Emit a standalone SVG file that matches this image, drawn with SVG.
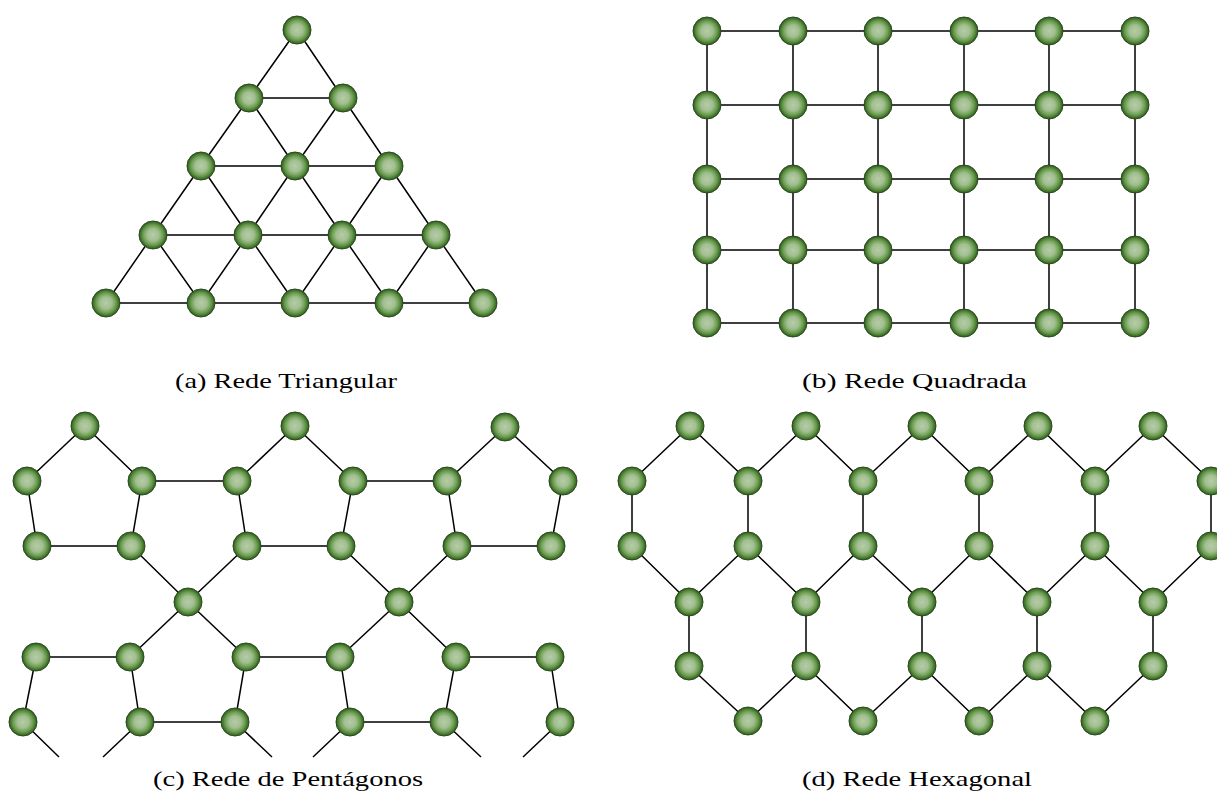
<svg xmlns="http://www.w3.org/2000/svg" width="1217" height="795" viewBox="0 0 1217 795">
<defs>
<radialGradient id="ball" cx="50%" cy="50%" r="50%">
<stop offset="0%" stop-color="#b6cca8"/>
<stop offset="42%" stop-color="#a2bf90"/>
<stop offset="72%" stop-color="#699c4e"/>
<stop offset="90%" stop-color="#41732d"/>
<stop offset="100%" stop-color="#30571f"/>
</radialGradient>
</defs>
<style>
.e{stroke:#000;stroke-width:1.5;fill:none}
.n circle{fill:url(#ball);stroke:#2c4a20;stroke-width:1}
.cap{font-family:"Liberation Serif","Times New Roman",serif;font-size:22px;fill:#000}
</style>
<rect width="1217" height="795" fill="#fff"/>
<g id="connectors" class="e">
<path d="M297,30L249,98M297,30L343,98M249,98L343,98M249,98L201,166M249,98L295,166M343,98L295,166M343,98L389,166M201,166L295,166M295,166L389,166M201,166L153,235M201,166L248,235M295,166L248,235M295,166L342,235M389,166L342,235M389,166L436,235M153,235L436,235M153,235L106,303M153,235L201,303M248,235L201,303M248,235L295,303M342,235L295,303M342,235L389,303M436,235L389,303M436,235L483,303M106,303L483,303"/>
<path d="M707,31H1135M707,105H1135M707,179H1135M707,250H1135M707,323H1135M707,31V323M793,31V323M878,31V323M964,31V323M1049,31V323M1135,31V323"/>
<path d="M85,426L27,481L37,546L131,546L142,481Z M295,426L237,481L247,546L341,546L353,481Z M505,427L447,481L457,546L551,546L563,481Z M142,481L237,481M353,481L447,481M131,546L188,602L247,546M130,657L188,602L246,657M341,546L399,602L457,546M340,657L399,602L456,657M36,657L130,657M36,657L23,722M130,657L140,722L235,722L246,657L340,657L350,722L444,722L456,657L550,657L560,722M23,722L59,757M140,722L103,757M235,722L272,757M350,722L313,757M444,722L481,757M560,722L523,757"/>
<path d="M632,481L690,426L748,481L806,426L863,481L922,426L979,481L1038,426L1095,481L1153,426L1211,481M632,481V546M748,481V546M863,481V546M979,481V546M1095,481V546M1211,481V546M632,546L689,602L748,546L806,602L863,546L922,602L979,546L1037,602L1095,546L1153,602L1211,546M689,602V666M806,602V666M922,602V666M1037,602V666M1153,602V666M689,666L748,721L806,666L863,721L922,666L979,721L1037,666L1095,721L1153,666"/>
</g>
<g class="n">
<g id="t1"><circle cx="297" cy="30" r="14"/></g>
<g id="t2"><circle cx="249" cy="98" r="14"/></g>
<g id="t3"><circle cx="343" cy="98" r="14"/></g>
<g id="t4"><circle cx="201" cy="166" r="14"/></g>
<g id="t5"><circle cx="295" cy="166" r="14"/></g>
<g id="t6"><circle cx="389" cy="166" r="14"/></g>
<g id="t7"><circle cx="153" cy="235" r="14"/></g>
<g id="t8"><circle cx="248" cy="235" r="14"/></g>
<g id="t9"><circle cx="342" cy="235" r="14"/></g>
<g id="t10"><circle cx="436" cy="235" r="14"/></g>
<g id="t11"><circle cx="106" cy="303" r="14"/></g>
<g id="t12"><circle cx="201" cy="303" r="14"/></g>
<g id="t13"><circle cx="295" cy="303" r="14"/></g>
<g id="t14"><circle cx="389" cy="303" r="14"/></g>
<g id="t15"><circle cx="483" cy="303" r="14"/></g>

<g id="s1"><circle cx="707" cy="31" r="14"/></g>
<g id="s2"><circle cx="793" cy="31" r="14"/></g>
<g id="s3"><circle cx="878" cy="31" r="14"/></g>
<g id="s4"><circle cx="964" cy="31" r="14"/></g>
<g id="s5"><circle cx="1049" cy="31" r="14"/></g>
<g id="s6"><circle cx="1135" cy="31" r="14"/></g>
<g id="s7"><circle cx="707" cy="105" r="14"/></g>
<g id="s8"><circle cx="793" cy="105" r="14"/></g>
<g id="s9"><circle cx="878" cy="105" r="14"/></g>
<g id="s10"><circle cx="964" cy="105" r="14"/></g>
<g id="s11"><circle cx="1049" cy="105" r="14"/></g>
<g id="s12"><circle cx="1135" cy="105" r="14"/></g>
<g id="s13"><circle cx="707" cy="179" r="14"/></g>
<g id="s14"><circle cx="793" cy="179" r="14"/></g>
<g id="s15"><circle cx="878" cy="179" r="14"/></g>
<g id="s16"><circle cx="964" cy="179" r="14"/></g>
<g id="s17"><circle cx="1049" cy="179" r="14"/></g>
<g id="s18"><circle cx="1135" cy="179" r="14"/></g>
<g id="s19"><circle cx="707" cy="250" r="14"/></g>
<g id="s20"><circle cx="793" cy="250" r="14"/></g>
<g id="s21"><circle cx="878" cy="250" r="14"/></g>
<g id="s22"><circle cx="964" cy="250" r="14"/></g>
<g id="s23"><circle cx="1049" cy="250" r="14"/></g>
<g id="s24"><circle cx="1135" cy="250" r="14"/></g>
<g id="s25"><circle cx="707" cy="323" r="14"/></g>
<g id="s26"><circle cx="793" cy="323" r="14"/></g>
<g id="s27"><circle cx="878" cy="323" r="14"/></g>
<g id="s28"><circle cx="964" cy="323" r="14"/></g>
<g id="s29"><circle cx="1049" cy="323" r="14"/></g>
<g id="s30"><circle cx="1135" cy="323" r="14"/></g>

<g id="p1"><circle cx="85" cy="426" r="14"/></g>
<g id="p2"><circle cx="27" cy="481" r="14"/></g>
<g id="p3"><circle cx="142" cy="481" r="14"/></g>
<g id="p4"><circle cx="37" cy="546" r="14"/></g>
<g id="p5"><circle cx="131" cy="546" r="14"/></g>
<g id="p6"><circle cx="295" cy="426" r="14"/></g>
<g id="p7"><circle cx="237" cy="481" r="14"/></g>
<g id="p8"><circle cx="353" cy="481" r="14"/></g>
<g id="p9"><circle cx="247" cy="546" r="14"/></g>
<g id="p10"><circle cx="341" cy="546" r="14"/></g>
<g id="p11"><circle cx="505" cy="427" r="14"/></g>
<g id="p12"><circle cx="447" cy="481" r="14"/></g>
<g id="p13"><circle cx="563" cy="481" r="14"/></g>
<g id="p14"><circle cx="457" cy="546" r="14"/></g>
<g id="p15"><circle cx="551" cy="546" r="14"/></g>
<g id="p16"><circle cx="188" cy="602" r="14"/></g>
<g id="p17"><circle cx="399" cy="602" r="14"/></g>
<g id="p18"><circle cx="36" cy="657" r="14"/></g>
<g id="p19"><circle cx="130" cy="657" r="14"/></g>
<g id="p20"><circle cx="246" cy="657" r="14"/></g>
<g id="p21"><circle cx="340" cy="657" r="14"/></g>
<g id="p22"><circle cx="456" cy="657" r="14"/></g>
<g id="p23"><circle cx="550" cy="657" r="14"/></g>
<g id="p24"><circle cx="23" cy="722" r="14"/></g>
<g id="p25"><circle cx="140" cy="722" r="14"/></g>
<g id="p26"><circle cx="235" cy="722" r="14"/></g>
<g id="p27"><circle cx="350" cy="722" r="14"/></g>
<g id="p28"><circle cx="444" cy="722" r="14"/></g>
<g id="p29"><circle cx="560" cy="722" r="14"/></g>

<g id="h1"><circle cx="690" cy="426" r="14"/></g>
<g id="h2"><circle cx="806" cy="426" r="14"/></g>
<g id="h3"><circle cx="922" cy="426" r="14"/></g>
<g id="h4"><circle cx="1038" cy="426" r="14"/></g>
<g id="h5"><circle cx="1153" cy="426" r="14"/></g>
<g id="h6"><circle cx="632" cy="481" r="14"/></g>
<g id="h7"><circle cx="748" cy="481" r="14"/></g>
<g id="h8"><circle cx="863" cy="481" r="14"/></g>
<g id="h9"><circle cx="979" cy="481" r="14"/></g>
<g id="h10"><circle cx="1095" cy="481" r="14"/></g>
<g id="h11"><circle cx="1211" cy="481" r="14"/></g>
<g id="h12"><circle cx="632" cy="546" r="14"/></g>
<g id="h13"><circle cx="748" cy="546" r="14"/></g>
<g id="h14"><circle cx="863" cy="546" r="14"/></g>
<g id="h15"><circle cx="979" cy="546" r="14"/></g>
<g id="h16"><circle cx="1095" cy="546" r="14"/></g>
<g id="h17"><circle cx="1211" cy="546" r="14"/></g>
<g id="h18"><circle cx="689" cy="602" r="14"/></g>
<g id="h19"><circle cx="806" cy="602" r="14"/></g>
<g id="h20"><circle cx="922" cy="602" r="14"/></g>
<g id="h21"><circle cx="1037" cy="602" r="14"/></g>
<g id="h22"><circle cx="1153" cy="602" r="14"/></g>
<g id="h23"><circle cx="689" cy="666" r="14"/></g>
<g id="h24"><circle cx="806" cy="666" r="14"/></g>
<g id="h25"><circle cx="922" cy="666" r="14"/></g>
<g id="h26"><circle cx="1037" cy="666" r="14"/></g>
<g id="h27"><circle cx="1153" cy="666" r="14"/></g>
<g id="h28"><circle cx="748" cy="721" r="14"/></g>
<g id="h29"><circle cx="863" cy="721" r="14"/></g>
<g id="h30"><circle cx="979" cy="721" r="14"/></g>
<g id="h31"><circle cx="1095" cy="721" r="14"/></g>
</g>
<g id="captions">
<text class="cap" x="175" y="388" textLength="222" lengthAdjust="spacingAndGlyphs">(a) Rede Triangular</text>
<text class="cap" x="802" y="388" textLength="225" lengthAdjust="spacingAndGlyphs">(b) Rede Quadrada</text>
<text class="cap" x="153" y="786" textLength="270" lengthAdjust="spacingAndGlyphs">(c) Rede de Pentágonos</text>
<text class="cap" x="802" y="786" textLength="230" lengthAdjust="spacingAndGlyphs">(d) Rede Hexagonal</text>
</g>
</svg>
